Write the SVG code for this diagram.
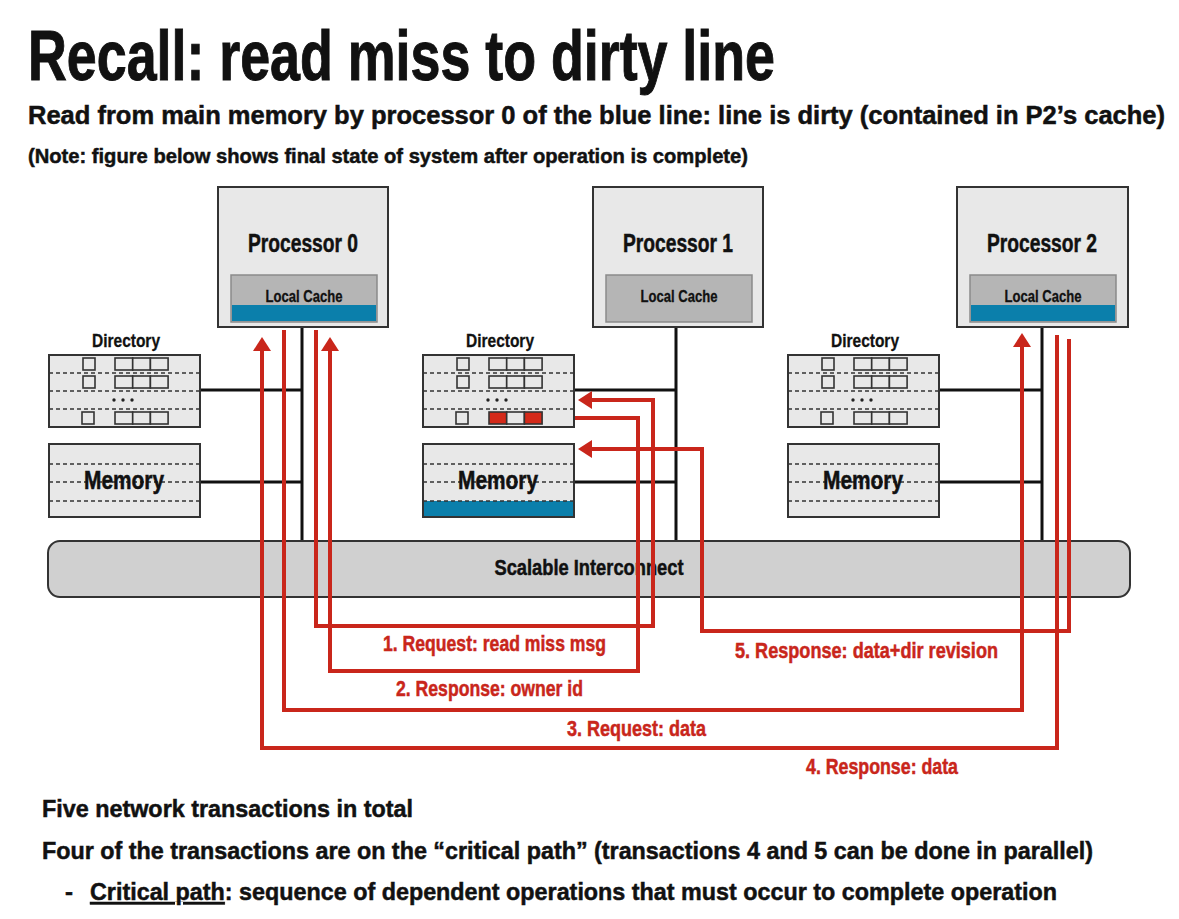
<svg xmlns="http://www.w3.org/2000/svg" width="1179" height="919" viewBox="0 0 1179 919">
<style>
text{font-family:"Liberation Sans Narrow","Liberation Sans",Arial,sans-serif;font-weight:bold;fill:#111;stroke:#111;stroke-width:0.5}
.box{fill:#e8e8e8;stroke:#333;stroke-width:2}
.cache{fill:#b5b5b5;stroke:#8a8a8a;stroke-width:1.5}
.blue{fill:#0b7fab}
.dash{stroke:#333;stroke-width:1.6;stroke-dasharray:4 3;fill:none}
.cell{fill:#e8e8e8;stroke:#333;stroke-width:1.6}
.red{fill:#d42a1a;stroke:#333;stroke-width:1.6}
.bus{stroke:#111;stroke-width:3;fill:none}
.wire{stroke:#c9261b;stroke-width:4;fill:none;marker-end:url(#ah)}
.lbl{fill:#c9261b;stroke:#c9261b;font-size:22px;text-anchor:middle}
.ptitle{font-size:25px;text-anchor:middle}
.lc{font-size:17px;text-anchor:middle;stroke-width:0.3}
.dl{font-size:19px;text-anchor:middle;stroke-width:0.3}
.mem{font-size:25px;text-anchor:middle}
</style>
<defs>
<marker id="ah" markerUnits="userSpaceOnUse" markerWidth="14" markerHeight="18" refX="4" refY="9" orient="auto" overflow="visible">
<path d="M0,0 L14,9 L0,18 z" fill="#c9261b"/>
</marker>
<g id="dirbody">
<rect class="box" x="0" y="0" width="151" height="72"/>
<line class="dash" x1="0" y1="18" x2="151" y2="18"/>
<line class="dash" x1="0" y1="36" x2="151" y2="36"/>
<line class="dash" x1="0" y1="54" x2="151" y2="54"/>
<rect class="cell" x="34" y="3" width="12" height="12"/>
<rect class="cell" x="34" y="21" width="12" height="12"/>
<rect class="cell" x="33" y="57" width="12" height="12"/>
<rect class="cell" x="66" y="3" width="17.7" height="12"/>
<rect class="cell" x="83.7" y="3" width="17.7" height="12"/>
<rect class="cell" x="101.4" y="3" width="17.7" height="12"/>
<rect class="cell" x="66" y="21" width="17.7" height="12"/>
<rect class="cell" x="83.7" y="21" width="17.7" height="12"/>
<rect class="cell" x="101.4" y="21" width="17.7" height="12"/>
<circle cx="65" cy="45" r="1.7" fill="#222"/>
<circle cx="74" cy="45" r="1.7" fill="#222"/>
<circle cx="83" cy="45" r="1.7" fill="#222"/>
</g>
</defs>
<rect width="1179" height="919" fill="#fff"/>

<text x="28" y="80" font-size="70" textLength="747" lengthAdjust="spacingAndGlyphs" style="stroke-width:1">Recall: read miss to dirty line</text>
<text x="28" y="124" font-size="25" textLength="1137" lengthAdjust="spacingAndGlyphs">Read from main memory by processor 0 of the blue line: line is dirty (contained in P2’s cache)</text>
<text x="28" y="163" font-size="21" textLength="720" lengthAdjust="spacingAndGlyphs">(Note: figure below shows final state of system after operation is complete)</text>

<g id="buses">
<path class="bus" d="M302,327 V541 M199,390 H302 M199,482 H302"/>
<path class="bus" d="M676,327 V541 M574,390 H676 M574,482 H676"/>
<path class="bus" d="M1042,327 V541 M939,390 H1042 M939,482 H1042"/>
</g>

<g id="interconnect">
<rect x="48" y="541" width="1082" height="56" rx="12" fill="#d0d0d0" stroke="#333" stroke-width="2"/>
<text x="589" y="575" font-size="22" text-anchor="middle" textLength="189" lengthAdjust="spacingAndGlyphs">Scalable Interconnect</text>
</g>

<g id="processor0">
<rect class="box" x="218" y="187" width="170" height="140"/>
<text class="ptitle" x="303" y="252" textLength="110" lengthAdjust="spacingAndGlyphs">Processor 0</text>
<rect class="cache" x="231" y="275" width="146" height="47"/>
<rect class="blue" x="232" y="305" width="144" height="16"/>
<text class="lc" x="304" y="302" textLength="77" lengthAdjust="spacingAndGlyphs">Local Cache</text>
</g>
<g id="processor1">
<rect class="box" x="593" y="187" width="170" height="140"/>
<text class="ptitle" x="678" y="252" textLength="110" lengthAdjust="spacingAndGlyphs">Processor 1</text>
<rect class="cache" x="606" y="275" width="146" height="47"/>
<text class="lc" x="679" y="302" textLength="77" lengthAdjust="spacingAndGlyphs">Local Cache</text>
</g>
<g id="processor2">
<rect class="box" x="957" y="187" width="171" height="140"/>
<text class="ptitle" x="1042" y="252" textLength="110" lengthAdjust="spacingAndGlyphs">Processor 2</text>
<rect class="cache" x="970" y="275" width="146" height="47"/>
<rect class="blue" x="971" y="305" width="144" height="16"/>
<text class="lc" x="1043" y="302" textLength="77" lengthAdjust="spacingAndGlyphs">Local Cache</text>
</g>

<g id="directory0">
<text class="dl" x="126" y="347" textLength="68" lengthAdjust="spacingAndGlyphs">Directory</text>
<use href="#dirbody" x="49" y="355"/>
<rect class="cell" x="115" y="412" width="17.7" height="12"/>
<rect class="cell" x="132.7" y="412" width="17.7" height="12"/>
<rect class="cell" x="150.4" y="412" width="17.7" height="12"/>
</g>
<g id="directory1">
<text class="dl" x="500" y="347" textLength="68" lengthAdjust="spacingAndGlyphs">Directory</text>
<use href="#dirbody" x="423" y="355"/>
<rect class="red" x="489" y="412" width="17.7" height="12"/>
<rect class="cell" x="506.7" y="412" width="17.7" height="12"/>
<rect class="red" x="524.4" y="412" width="17.7" height="12"/>
</g>
<g id="directory2">
<text class="dl" x="865" y="347" textLength="68" lengthAdjust="spacingAndGlyphs">Directory</text>
<use href="#dirbody" x="788" y="355"/>
<rect class="cell" x="854" y="412" width="17.7" height="12"/>
<rect class="cell" x="871.7" y="412" width="17.7" height="12"/>
<rect class="cell" x="889.4" y="412" width="17.7" height="12"/>
</g>

<g id="memory0">
<rect class="box" x="49" y="444" width="151" height="73"/>
<path class="dash" d="M49,464 H200 M49,482 H200 M49,501 H200"/>
<text class="mem" x="124" y="489" textLength="80" lengthAdjust="spacingAndGlyphs">Memory</text>
</g>
<g id="memory1">
<rect class="box" x="423" y="444" width="151" height="73"/>
<rect class="blue" x="424" y="501" width="149" height="15"/>
<path class="dash" d="M423,464 H574 M423,482 H574 M423,501 H574"/>
<text class="mem" x="498" y="489" textLength="80" lengthAdjust="spacingAndGlyphs">Memory</text>
</g>
<g id="memory2">
<rect class="box" x="788" y="444" width="151" height="73"/>
<path class="dash" d="M788,464 H939 M788,482 H939 M788,501 H939"/>
<text class="mem" x="863" y="489" textLength="80" lengthAdjust="spacingAndGlyphs">Memory</text>
</g>

<g id="connectors">
<path class="wire" d="M316,330 V626 H653 V400 H588"/>
<path class="wire" d="M575,418 H638 V671 H330 V347"/>
<path class="wire" d="M284,330 V710 H1022 V343"/>
<path class="wire" d="M1057,335 V748 H262 V347"/>
<path class="wire" d="M1069,339 V631 H702 V449 H588"/>
</g>

<g id="labels">
<text class="lbl" x="494.5" y="651" textLength="223" lengthAdjust="spacingAndGlyphs">1. Request: read miss msg</text>
<text class="lbl" x="489.5" y="696" textLength="187" lengthAdjust="spacingAndGlyphs">2. Response: owner id</text>
<text class="lbl" x="636.5" y="736" textLength="139" lengthAdjust="spacingAndGlyphs">3. Request: data</text>
<text class="lbl" x="882" y="774" textLength="152" lengthAdjust="spacingAndGlyphs">4. Response: data</text>
<text class="lbl" x="866.5" y="658" textLength="263" lengthAdjust="spacingAndGlyphs">5. Response: data+dir revision</text>
</g>

<text x="42" y="817" font-size="24" textLength="371" lengthAdjust="spacingAndGlyphs">Five network transactions in total</text>
<text x="42" y="859" font-size="24" textLength="1051" lengthAdjust="spacingAndGlyphs">Four of the transactions are on the “critical path” (transactions 4 and 5 can be done in parallel)</text>
<text x="65" y="900" font-size="24">-</text>
<text x="90" y="900" font-size="24" textLength="967" lengthAdjust="spacingAndGlyphs"><tspan text-decoration="underline">Critical path</tspan>: sequence of dependent operations that must occur to complete operation</text>
</svg>
